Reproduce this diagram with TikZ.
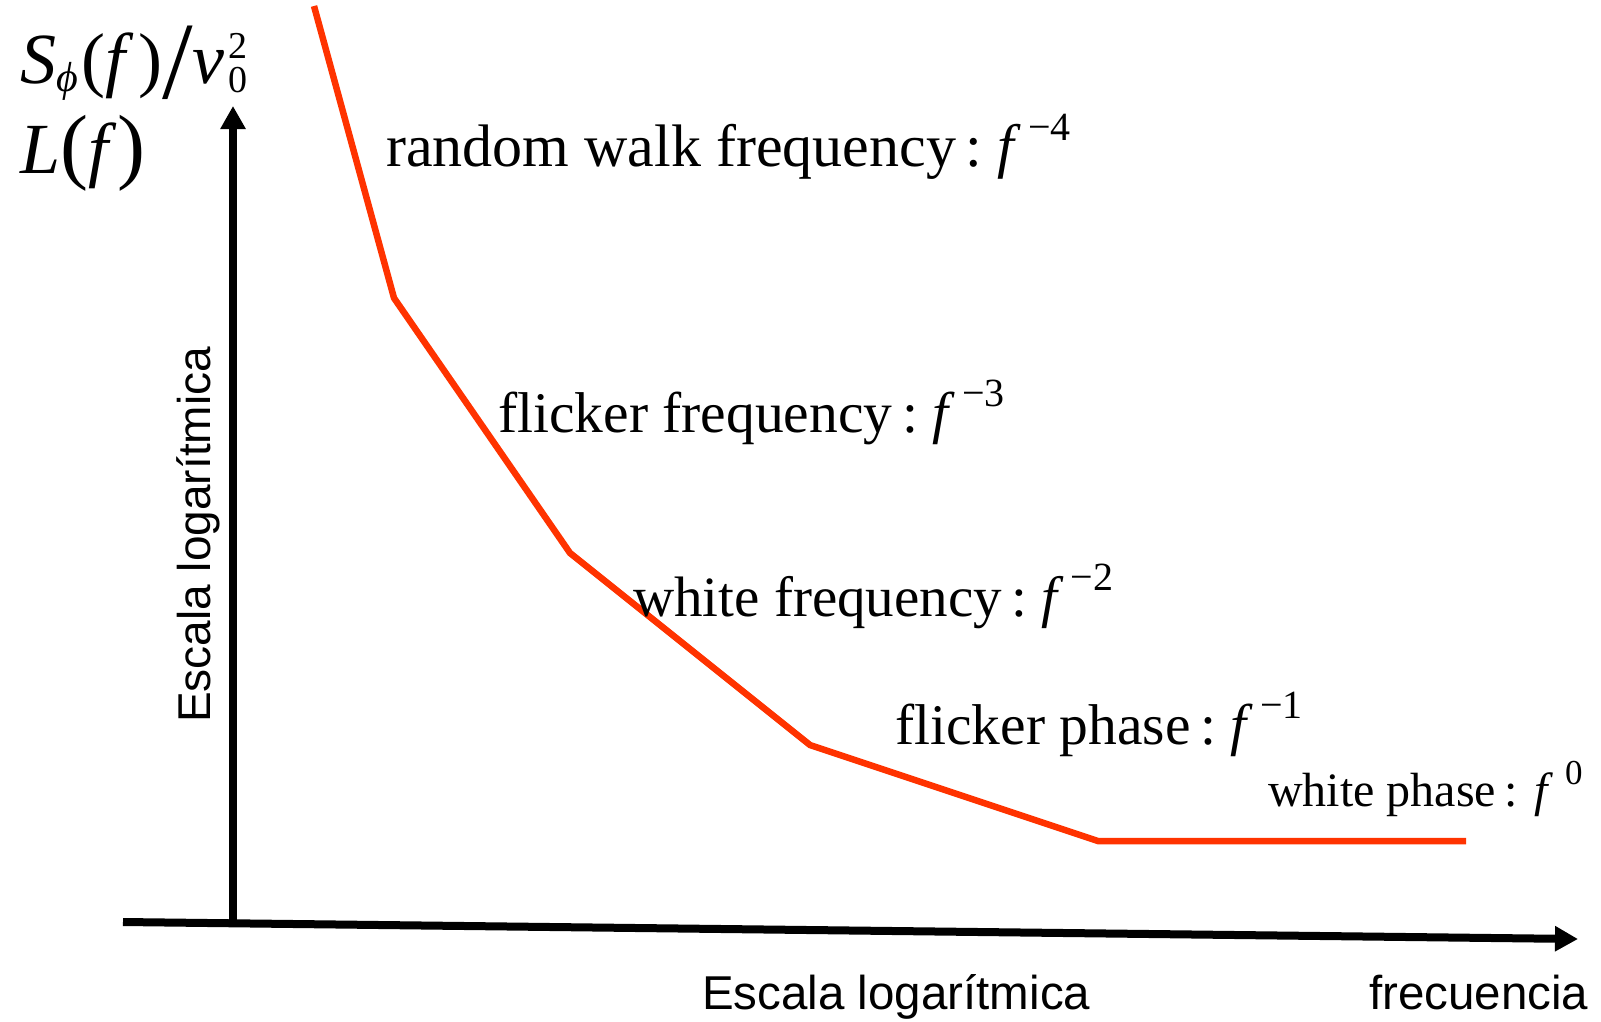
\documentclass[tikz,border=0pt]{standalone}
\usepackage{fontspec}
\setmainfont{Liberation Serif}
\newfontfamily\arialf{Liberation Sans}
\usetikzlibrary{arrows.meta}
\definecolor{curvered}{RGB}{255,51,0}
\newcommand{\supsz}[1]{\fontsize{#1}{#1}\selectfont}
\begin{document}
\begin{tikzpicture}[x=1pt,y=-1pt,
  axisline/.style={line width=8pt,-{Triangle[width=24pt,length=23pt]}},
  noise/.style={line width=6.5pt,draw=curvered},
  lbl/.style={anchor=base west,inner sep=0pt,font=\fontsize{58}{58}\selectfont},
  smalllbl/.style={anchor=base west,inner sep=0pt,font=\fontsize{48}{48}\selectfont},
  sanslbl/.style={anchor=base west,inner sep=0pt,font=\arialf\fontsize{47.5}{47.5}\selectfont},
  formula/.style={anchor=base west,inner sep=0pt,font=\fontsize{72}{72}\selectfont}]
\useasboundingbox (0,0) rectangle (1601,1021);
% axes
\coordinate (o) at (233,925);
\coordinate (ytip) at (233,106);
\coordinate (xstart) at (123,922);
\coordinate (xtip) at (1578,939);
\draw[axisline] (o) -- (ytip);
\draw[axisline] (xstart) -- (xtip);
% noise curve
\coordinate (p0) at (314,6);
\coordinate (p1) at (394,298);
\coordinate (p2) at (570,553);
\coordinate (p3) at (810,745);
\coordinate (p4) at (1098,841);
\coordinate (p5) at (1466,841);
\draw[noise] (p0) -- (p1) -- (p2) -- (p3) -- (p4) -- (p5);
% labels
\node[lbl,font=\fontsize{60}{60}\selectfont] (rw) at (386,166) {random walk frequency\,:\hspace{0.25em}\textit{f}\hspace{7pt}\raisebox{26pt}{\supsz{40}−4}};
\node[lbl,font=\fontsize{57.5}{57.5}\selectfont] (ff) at (498,432) {flicker frequency\,:\hspace{0.25em}\textit{f}\hspace{7pt}\raisebox{26pt}{\supsz{40}−3}};
\node[lbl,font=\fontsize{57}{57}\selectfont] (wf) at (633,616) {white frequency\,:\hspace{0.25em}\textit{f}\hspace{7pt}\raisebox{26pt}{\supsz{40}−2}};
\node[lbl,font=\fontsize{57.5}{57.5}\selectfont] (fp) at (895,744) {flicker phase\,:\hspace{0.25em}\textit{f}\hspace{7pt}\raisebox{26pt}{\supsz{40}−1}};
\node[smalllbl] (wp) at (1268,806) {white phase\,:\hspace{0.35em}\textit{f}\hspace{12pt}\raisebox{22pt}{\supsz{35}0}};
% axis titles
\node[sanslbl] (xt1) at (702,1009) {Escala logarítmica};
\node[sanslbl] (xt2) at (1369,1009) {frecuencia};
\node[sanslbl,rotate=90,font=\arialf\fontsize{46}{46}\selectfont] (yt) at (210,723) {Escala logarítmica};
% y-axis quantities
\node[formula] (sphi) at (20,83) {\textit{S}\raisebox{-8pt}{\supsz{42}\itshape ϕ}\hspace{4pt}(\textit{f}\hspace{4pt})\raisebox{-15pt}{\supsz{110}/}\textit{ν}\hspace{4pt}\rlap{\raisebox{25pt}{\supsz{38}2}}\raisebox{-9pt}{\supsz{38}0}};
\node[formula] (lf) at (20,173) {\textit{L}{\supsz{84}(}\textit{f}\hspace{1pt}{\supsz{84})}};
\end{tikzpicture}
\end{document}
